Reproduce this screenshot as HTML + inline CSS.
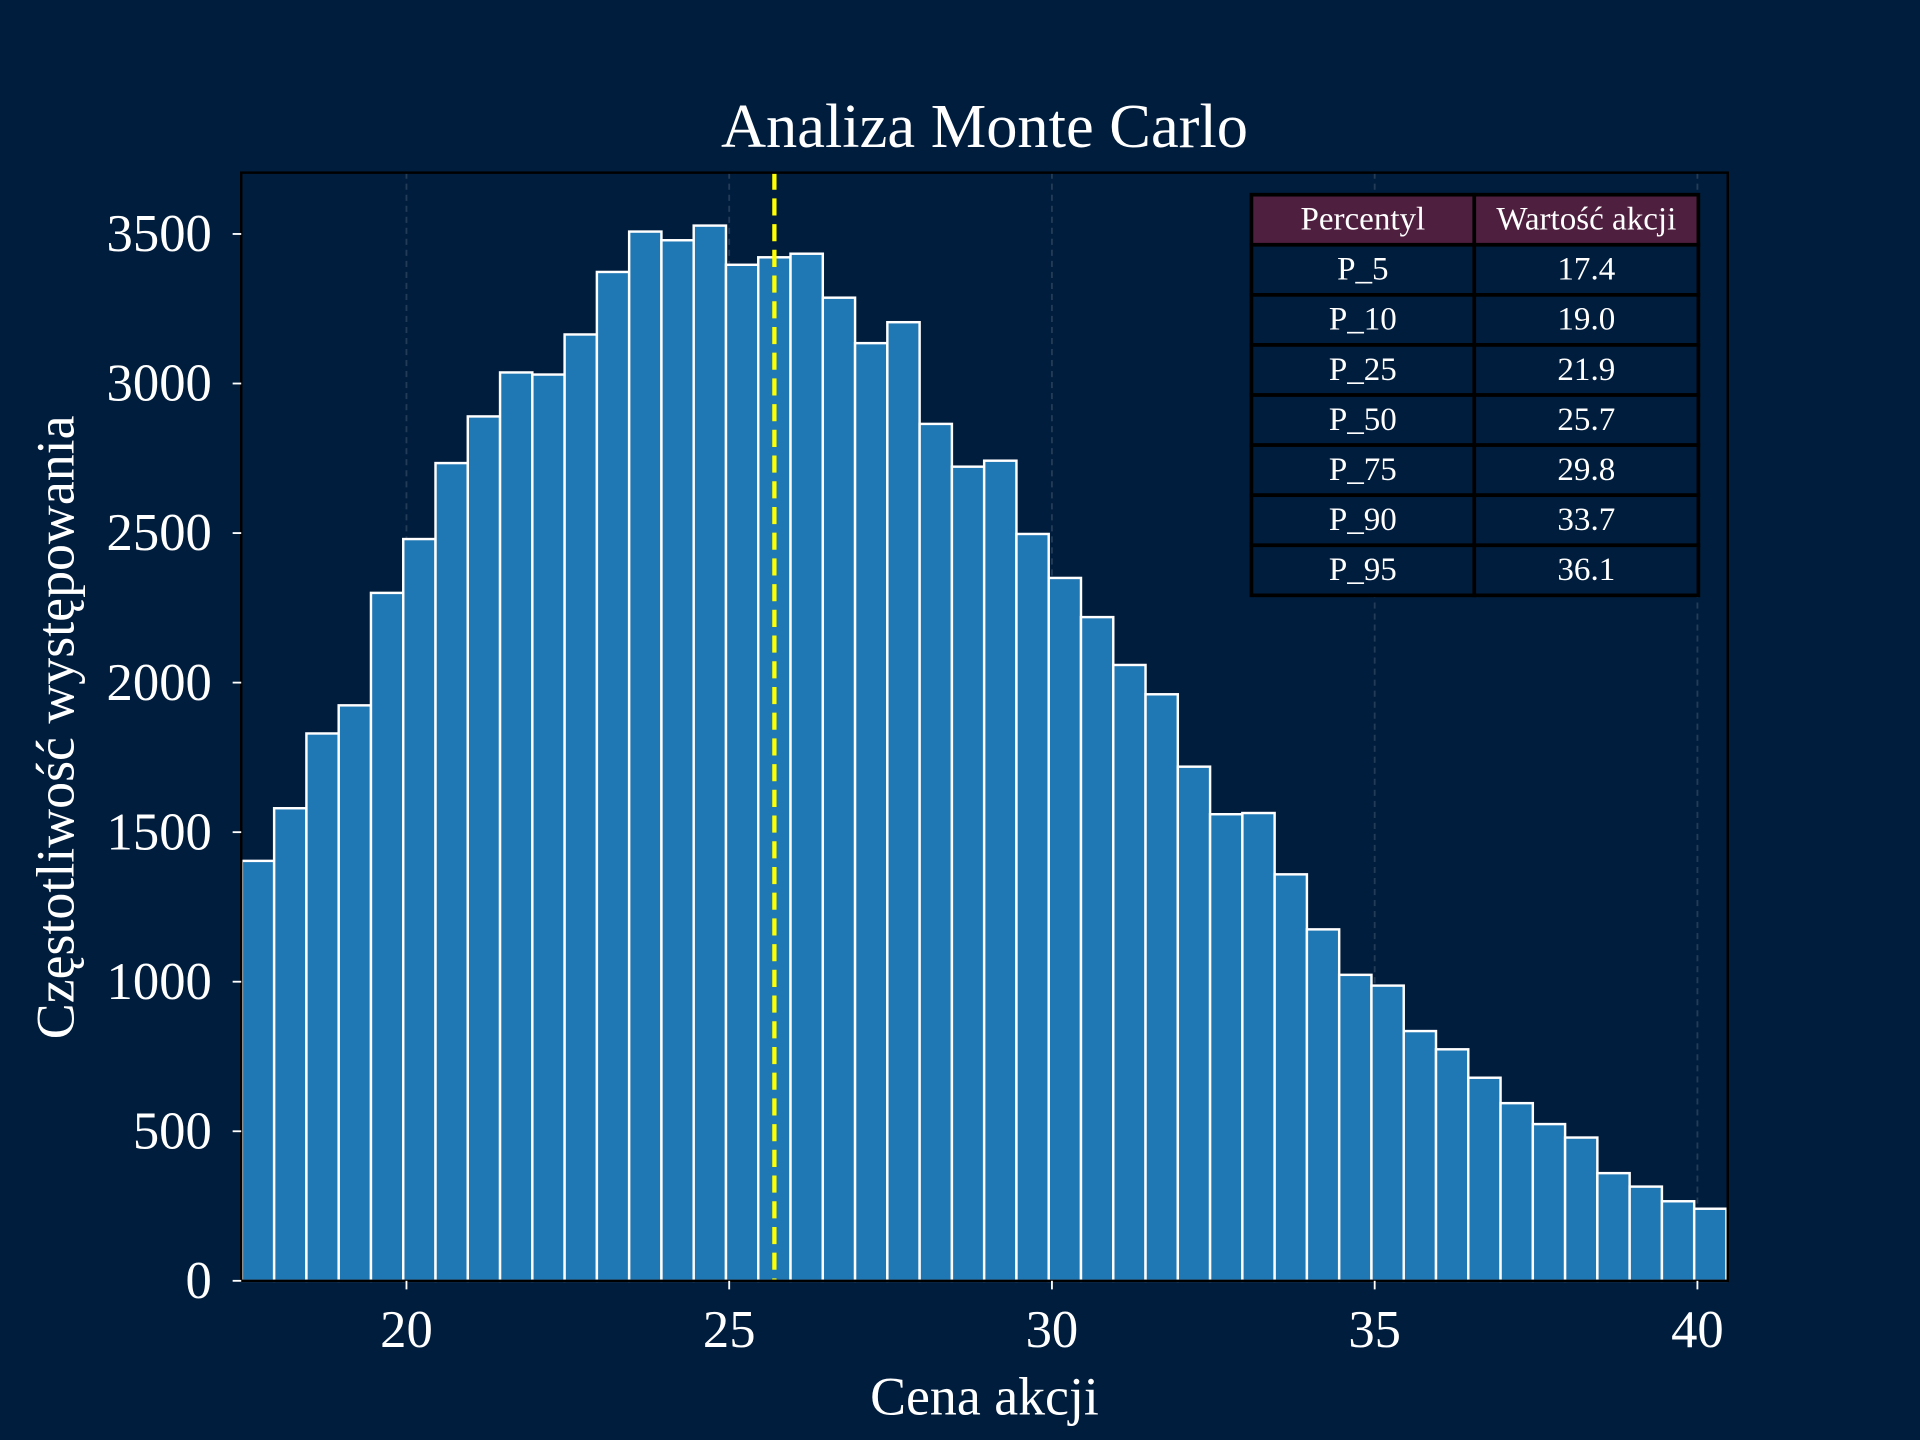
<!DOCTYPE html>
<html><head><meta charset="utf-8"><style>
html,body{margin:0;padding:0;background:#001d3d;}
svg{display:block;font-family:"Liberation Serif",serif;}
</style></head><body>
<svg id="chart" width="1920" height="1440" viewBox="0 0 1568 1176" xmlns="http://www.w3.org/2000/svg">
<rect width="1568" height="1176" fill="#001d3d"/>
<text x="804" y="120" font-size="51" fill="#fff" text-anchor="middle">Analiza Monte Carlo</text>
<g id="grid"></g>
<g id="bars"></g>
<g id="axes"></g>
<g id="table"></g>
<text x="804" y="1155" font-size="44" fill="#fff" text-anchor="middle">Cena akcji</text>
<text transform="translate(60,594) rotate(-90)" font-size="44" fill="#fff" text-anchor="middle">Częstotliwość występowania</text>
</svg>
<script>
const binStart = 17.45;
const binWidth = 0.5;
const counts = [1404,1580,1830,1924,2300,2480,2734,2890,3037,3030,3164,3373,3508,3479,3528,3397,3422,3434,3287,3135,3205,2865,2722,2742,2497,2350,2219,2059,1961,1719,1560,1564,1359,1175,1023,987,835,774,679,594,524,479,360,315,266,241];
const xTicks = [20,25,30,35,40];
const yTicks = [0,500,1000,1500,2000,2500,3000,3500];
const meanValue = 25.7;
const pctLabels = ["P_5","P_10","P_25","P_50","P_75","P_90","P_95"];
const pctValues = ["17.4","19.0","21.9","25.7","29.8","33.7","36.1"];

const L=197,R=1411,T=141,B=1046;
const xMin=17.44,xMax=40.47,yMax=3705;
const sx=v=>L+(v-xMin)/(xMax-xMin)*(R-L);
const sy=v=>B-v/yMax*(B-T);
const NS="http://www.w3.org/2000/svg";
function mk(tag,attrs,parent,txt){const e=document.createElementNS(NS,tag);for(const k in attrs)e.setAttribute(k,attrs[k]);if(txt!==undefined)e.textContent=txt;parent.appendChild(e);return e;}
const grid=document.getElementById('grid'),bars=document.getElementById('bars'),axes=document.getElementById('axes'),table=document.getElementById('table');

xTicks.forEach(t=>{const g=mk('line',{x1:sx(t),x2:sx(t),y1:T,y2:B,stroke:'#3a5068','stroke-width':1.5,'stroke-dasharray':'5,4',opacity:0.6},grid);

});

counts.forEach((c,i)=>{const x0=binStart+i*binWidth;const r=mk('rect',{x:sx(x0),y:sy(c),width:sx(x0+binWidth)-sx(x0),height:B-sy(c),fill:'#1f77b4',stroke:'#fff','stroke-width':2},bars);

});

const ml=mk('line',{x1:sx(meanValue),x2:sx(meanValue),y1:T,y2:B,stroke:'#ffff00','stroke-width':3.5,'stroke-dasharray':'14,7'},bars);



const fr=mk('rect',{x:L,y:T,width:R-L,height:B-T,fill:'none',stroke:'#000','stroke-width':2},axes);


xTicks.forEach(t=>{mk('line',{x1:sx(t),x2:sx(t),y1:B,y2:B+7,stroke:'#fff','stroke-width':1.5},axes);
const tx=mk('text',{x:sx(t),y:B+54,'font-size':43,fill:'#fff','text-anchor':'middle'},axes,String(t));

});
yTicks.forEach(t=>{mk('line',{x1:L-7,x2:L,y1:sy(t),y2:sy(t),stroke:'#fff','stroke-width':1.5},axes);
const tx=mk('text',{x:L-24,y:sy(t)+14,'font-size':43,fill:'#fff','text-anchor':'end'},axes,String(t));

});

const tx0=1022,c1=1204,tx1=1387,ty0=159,rh=40.9;
function cell(x,y,w,h,fill,text,name){const r=mk('rect',{x:x,y:y,width:w,height:h,fill:fill,stroke:'#000','stroke-width':3},table);


const t=mk('text',{x:x+w/2,y:y+h/2+8,'font-size':27,fill:'#fff','text-anchor':'middle'},table,text);

}
cell(tx0,ty0,c1-tx0,rh,'#4f1f3f','Percentyl','header-percentyl');
cell(c1,ty0,tx1-c1,rh,'#4f1f3f','Wartość akcji','header-value');
pctLabels.forEach((p,i)=>{const y=ty0+rh*(i+1);cell(tx0,y,c1-tx0,rh,'#001d3d',p,'percentile-label');cell(c1,y,tx1-c1,rh,'#001d3d',pctValues[i],'percentile-value');});
</script>
</body></html>
